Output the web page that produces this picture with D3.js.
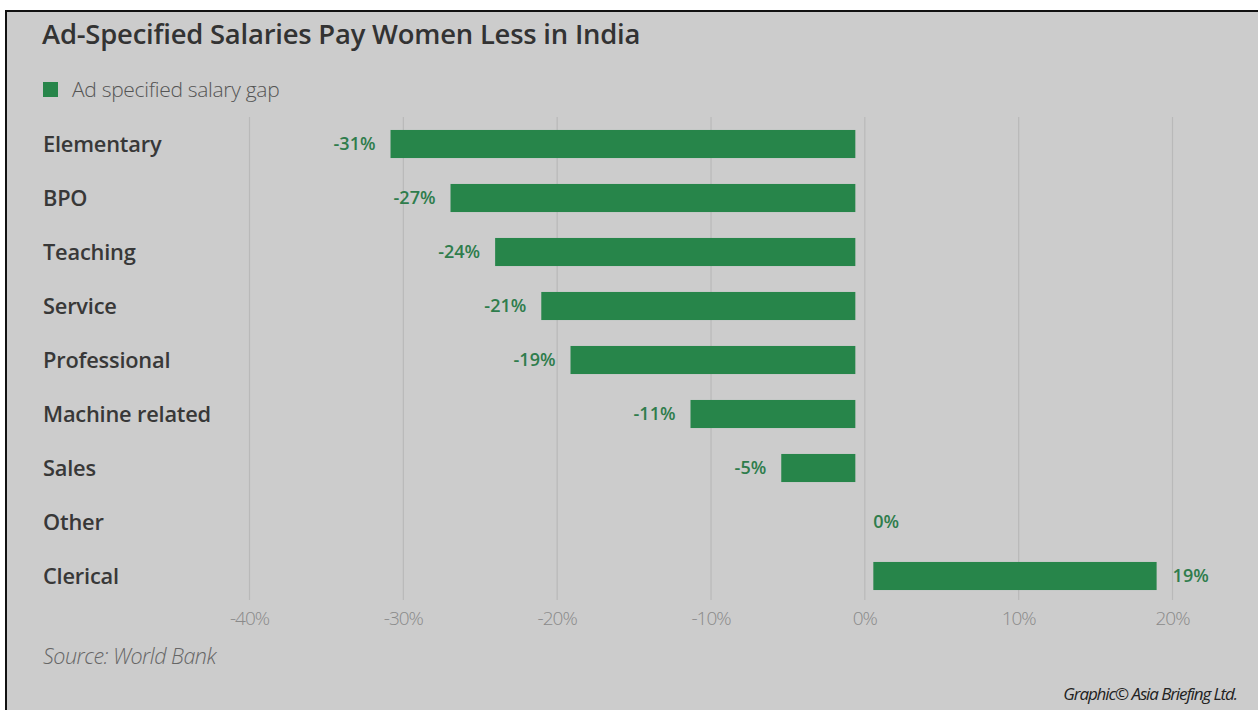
<!DOCTYPE html>
<html>
<head>
<meta charset="utf-8">
<script src="https://cdn.jsdelivr.net/npm/d3@7"></script>
<style>
  html, body { margin: 0; padding: 0; background: #ffffff; }
  svg { display: block; }
</style>
</head>
<body>
<svg id="chart" width="1258" height="710"></svg>
<script>
// ---- data ----
const categories = ["Elementary", "BPO", "Teaching", "Service", "Professional", "Machine related", "Sales", "Other", "Clerical"];
const gapValues = [-30.8, -26.9, -24, -21, -19.1, -11.3, -5.4, 0, 19];
const tickValues = [-40, -30, -20, -10, 0, 10, 20];
const tickLabels = ["-40%", "-30%", "-20%", "-10%", "0%", "10%", "20%"];
const seriesName = "Ad specified salary gap";
const titleText = "Ad-Specified Salaries Pay Women Less in India";
const sourceText = "Source: World Bank";
const creditText = "Graphic\u00A9 Asia Briefing Ltd.";

const data = categories.map((c, i) => ({ cat: c, v: gapValues[i] }));

const svg = d3.select("#chart");
const W = 1258, H = 710;
const BG = "#cccccc", GREEN = "#27854a", LABEL_GREEN = "#2f7d4c";

// frame
svg.append("rect").attr("x", 6).attr("y", 11).attr("width", W - 6).attr("height", H - 11).attr("fill", BG);
svg.append("rect").attr("x", 5).attr("y", 11).attr("width", 2).attr("height", H - 11).attr("fill", "#111");
svg.append("rect").attr("x", 5).attr("y", 10).attr("width", W - 5).attr("height", 2).attr("fill", "#111");

// scales
const x = d3.scaleLinear().domain([-40, 20]).range([249, 1172]);
const y = d3.scaleBand().domain(categories).range([117, 603]).paddingInner(0.48).paddingOuter(0.24);
const gridTop = 117, gridBottom = 600;

// axis + gridlines
const axis = d3.axisBottom(x)
  .tickValues(tickValues)
  .tickFormat((d, i) => tickLabels[i])
  .tickSizeInner(-(gridBottom - gridTop))
  .tickSizeOuter(0)
  .tickPadding(12);
const gAxis = svg.append("g").attr("transform", `translate(0,${gridBottom})`).call(axis);
gAxis.select(".domain").remove();
gAxis.selectAll(".tick line").attr("stroke", "#b9b9b9").attr("stroke-width", 1.2);
gAxis.selectAll(".tick text")
  .attr("fill", "#8a8a8a")
  .attr("font-family", "'Open Sans', sans-serif")
  .attr("font-weight", 300)
  .attr("font-size", 19)
  .attr("letter-spacing", "-1px");

// bars (inset slightly at the zero end as in the original)
const inset = 9;
svg.append("g").selectAll("rect").data(data.filter(d => d.v !== 0)).join("rect")
  .attr("x", d => d.v < 0 ? x(d.v) : x(0) + inset)
  .attr("width", d => d.v < 0 ? (x(0) - inset) - x(d.v) : x(d.v) - (x(0) + inset))
  .attr("y", d => y(d.cat))
  .attr("height", y.bandwidth())
  .attr("fill", GREEN);

// value labels
const fmt = v => d3.format(".0f")(v).replace("\u2212", "-") + "%";
svg.append("g").selectAll("text").data(data).join("text")
  .attr("x", d => d.v < 0 ? x(d.v) - 15 : (d.v > 0 ? x(d.v) + 16 : x(0) + inset))
  .attr("y", d => y(d.cat) + y.bandwidth() / 2)
  .attr("dy", "0.35em")
  .attr("text-anchor", d => d.v < 0 ? "end" : "start")
  .attr("fill", LABEL_GREEN)
  .attr("font-family", "'Open Sans', sans-serif")
  .attr("font-weight", 600)
  .attr("font-size", 18)
  .text(d => fmt(d.v));

// category labels
svg.append("g").selectAll("text").data(categories).join("text")
  .attr("x", 43)
  .attr("y", d => y(d) + y.bandwidth() / 2)
  .attr("dy", "0.35em")
  .attr("fill", "#383838")
  .attr("font-family", "'Open Sans', sans-serif")
  .attr("font-weight", 600)
  .attr("font-size", 21.8)
  .attr("letter-spacing", "-0.2px")
  .text(d => d);

// title
svg.append("text")
  .attr("x", 42).attr("y", 44)
  .attr("fill", "#333333")
  .attr("font-family", "'Open Sans', sans-serif")
  .attr("font-weight", 600)
  .attr("font-size", 27.4)
  .attr("letter-spacing", "-0.2px")
  .text(titleText);

// legend
svg.append("rect").attr("x", 43).attr("y", 82).attr("width", 15).attr("height", 15).attr("fill", GREEN);
svg.append("text")
  .attr("x", 72).attr("y", 89.5).attr("dy", "0.35em")
  .attr("fill", "#555555")
  .attr("font-family", "'Open Sans', sans-serif")
  .attr("font-weight", 300)
  .attr("font-size", 21)
  .attr("letter-spacing", "-0.3px")
  .text(seriesName);

// source
svg.append("text")
  .attr("x", 43).attr("y", 664)
  .attr("fill", "#666666")
  .attr("font-family", "'Open Sans', sans-serif")
  .attr("font-style", "italic")
  .attr("font-weight", 300)
  .attr("font-size", 21.5)
  .attr("letter-spacing", "-0.5px")
  .text(sourceText);

// credit
svg.append("text")
  .attr("x", 1237).attr("y", 700)
  .attr("text-anchor", "end")
  .attr("fill", "#222222")
  .attr("font-family", "'Open Sans', sans-serif")
  .attr("font-style", "italic")
  .attr("font-size", 17)
  .attr("letter-spacing", "-1.1px")
  .text(creditText);
</script>
</body>
</html>
